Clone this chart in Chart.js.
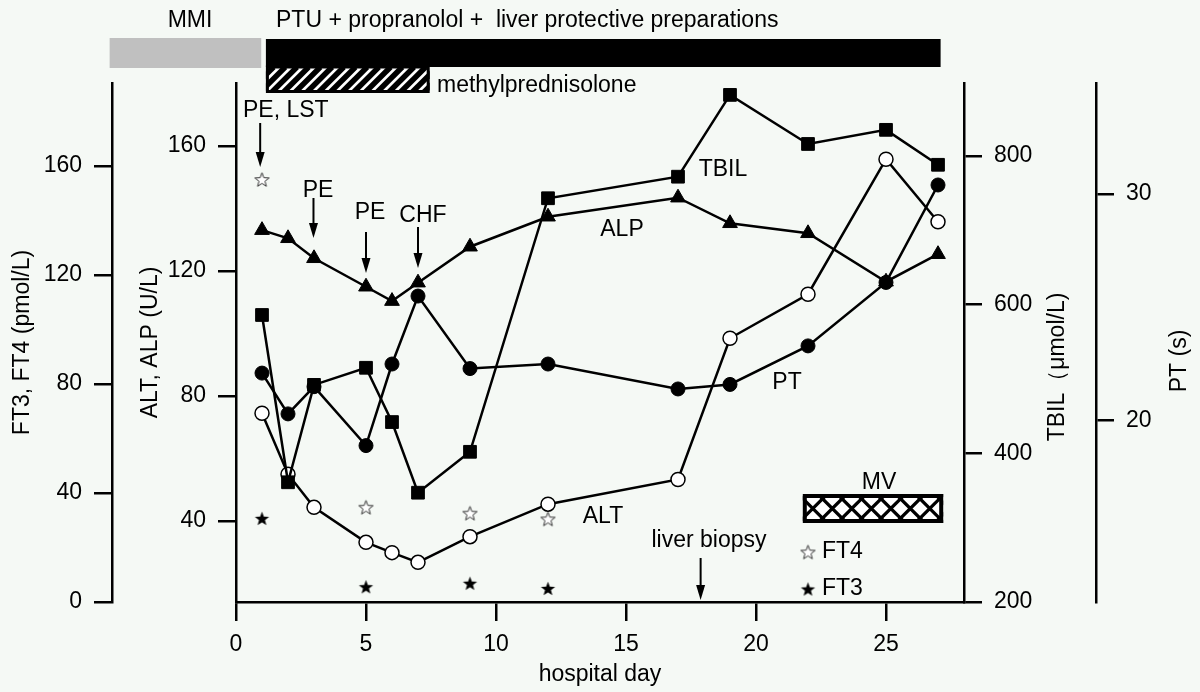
<!DOCTYPE html>
<html>
<head>
<meta charset="utf-8">
<script src="https://cdn.jsdelivr.net/npm/chart.js@4.4.0/dist/chart.umd.min.js"></script>
<style>
  html, body { margin: 0; padding: 0; background: #f5f9f5; }
  #wrap { width: 1200px; height: 692px; }
</style>
</head>
<body>
<div id="wrap"><canvas id="chart" width="1200" height="692"></canvas></div>
<script>
// hospital days
const labDays = [1, 2, 3, 5, 6, 7, 9, 12, 17, 19, 22, 25, 27];
const ftDays = [1, 5, 9, 12];

// series values
const altValues = [74.5, 55, 44.4, 33.2, 29.9, 26.8, 35, 45.4, 53.3, 98.5, 112.6, 155.8, 135.8];
const alpValues = [133.1, 130.5, 124.1, 115, 110.4, 116.3, 127.8, 137.4, 143.5, 135.3, 132.1, 116.6, 125.4];
const tbilValues = [586, 361, 492, 515, 442, 347, 402, 743, 772, 882, 816, 835, 788];
const ptValues = [22.1, 20.3, 21.5, 18.9, 22.5, 25.5, 22.3, 22.5, 21.4, 21.6, 23.3, 26.1, 30.4];
const ft4Values = [155.1, 34.8, 32.6, 30.5];
const ft3Values = [30.7, 5.6, 6.9, 5.0];

// tick labels
const dayTicks = [0, 5, 10, 15, 20, 25];
const ftTicks = [0, 40, 80, 120, 160];
const altTicks = [40, 80, 120, 160];
const tbilTicks = [200, 400, 600, 800];
const ptTicks = [20, 30];

const FONT = '"Liberation Sans", Arial, Helvetica, sans-serif';
Chart.defaults.font.family = FONT;
Chart.defaults.font.size = 23;
Chart.defaults.color = '#000';

// 五角星点样式
function starCanvas(r, fill, stroke, lw) {
  const size = Math.ceil(r * 2 + lw * 2 + 2);
  const c = document.createElement('canvas');
  c.width = size;
  c.height = size;
  const g = c.getContext('2d');
  g.translate(size / 2, size / 2 + r * 0.1);
  g.beginPath();
  for (let i = 0; i < 10; i++) {
    const rr = i % 2 ? r * 0.42 : r;
    const a = -Math.PI / 2 + i * Math.PI / 5;
    g.lineTo(Math.cos(a) * rr, Math.sin(a) * rr);
  }
  g.closePath();
  g.fillStyle = fill;
  g.fill();
  if (stroke) { g.lineWidth = lw; g.strokeStyle = stroke; g.stroke(); }
  return c;
}
const openStar = starCanvas(7.5, '#fff', '#333', 1);
const filledStar = starCanvas(7.5, '#000', null, 0);

const pts = (xs, ys) => xs.map((d, i) => ({ x: d, y: ys[i] }));
const fixTicks = list => scale => { scale.ticks = list.map(v => ({ value: v })); };

function axis(pos, weight, min, max, ticks, width, extra) {
  return Object.assign({
    type: 'linear',
    position: pos,
    weight: weight,
    min: min,
    max: max,
    afterBuildTicks: fixTicks(ticks),
    afterFit: s => { s.width = width; },
    border: { display: true, color: '#000', width: 2.5 },
    grid: { display: true, drawOnChartArea: false, drawTicks: true, tickLength: 18, color: '#000', lineWidth: 2.5 },
    ticks: { padding: 12, color: '#000', font: { size: 23 } }
  }, extra);
}

// 标注：治疗条、箭头、文字
const annotations = {
  id: 'annotations',
  afterDraw(chart) {
    const ctx = chart.ctx;
    const px = d => chart.scales.x.getPixelForValue(d);
    ctx.save();
    ctx.font = `23px ${FONT}`;
    ctx.textBaseline = 'middle';

    const text = (s, x, y, align) => {
      ctx.fillStyle = '#000';
      ctx.textAlign = align || 'center';
      ctx.fillText(s, x, y);
    };

    // treatment bars
    ctx.fillStyle = '#c0c0c0';
    ctx.fillRect(px(-4.86), 38, px(0.97) - px(-4.86), 30);
    ctx.fillStyle = '#000';
    ctx.fillRect(px(1.15), 39, px(27.1) - px(1.15), 28);

    // methylprednisolone hatched bar
    const hx0 = px(1.15), hx1 = px(7.45), hy0 = 67, hy1 = 93;
    ctx.save();
    ctx.beginPath();
    ctx.rect(hx0, hy0, hx1 - hx0, hy1 - hy0);
    ctx.clip();
    ctx.fillStyle = '#fff';
    ctx.fillRect(hx0, hy0, hx1 - hx0, hy1 - hy0);
    ctx.strokeStyle = '#000';
    ctx.lineWidth = 5.5;
    for (let sx = hx0 - 30; sx < hx1 + 30; sx += 11.7) {
      ctx.beginPath();
      ctx.moveTo(sx, hy1);
      ctx.lineTo(sx + (hy1 - hy0), hy0);
      ctx.stroke();
    }
    ctx.restore();
    ctx.strokeStyle = '#000';
    ctx.lineWidth = 3;
    ctx.strokeRect(hx0 + 1.5, hy0, hx1 - hx0 - 3, hy1 - hy0 - 1.5);

    text('MMI', 190, 21);
    text('PTU + propranolol +  liver protective preparations', 276, 21, 'left');
    text('methylprednisolone', 437, 86, 'left');

    // MV cross-hatched box
    const mx0 = px(21.8), mx1 = px(27.2), my0 = 494, my1 = 523;
    ctx.save();
    ctx.beginPath();
    ctx.rect(mx0, my0, mx1 - mx0, my1 - my0);
    ctx.clip();
    ctx.fillStyle = '#fff';
    ctx.fillRect(mx0, my0, mx1 - mx0, my1 - my0);
    ctx.strokeStyle = '#000';
    ctx.lineWidth = 3.2;
    const mh = my1 - my0;
    for (let cx = mx0 + 10; cx < mx1 + 30; cx += 19.5) {
      ctx.beginPath();
      ctx.moveTo(cx - mh / 2, my1);
      ctx.lineTo(cx + mh / 2, my0);
      ctx.moveTo(cx - mh / 2, my0);
      ctx.lineTo(cx + mh / 2, my1);
      ctx.stroke();
    }
    ctx.restore();
    ctx.lineWidth = 4;
    ctx.strokeRect(mx0 + 2, my0 + 2, mx1 - mx0 - 4, mh - 4);
    text('MV', 879, 483);

    // arrows
    const arrow = (day, y0, y1) => {
      const ax = px(day);
      ctx.strokeStyle = '#000';
      ctx.fillStyle = '#000';
      ctx.lineWidth = 2;
      ctx.beginPath();
      ctx.moveTo(ax, y0);
      ctx.lineTo(ax, y1 - 10);
      ctx.stroke();
      ctx.beginPath();
      ctx.moveTo(ax - 4.5, y1 - 15);
      ctx.lineTo(ax + 4.5, y1 - 15);
      ctx.lineTo(ax, y1);
      ctx.closePath();
      ctx.fill();
    };
    arrow(0.93, 123, 167);
    arrow(2.98, 198, 238);
    arrow(5.0, 232, 273);
    arrow(7.0, 227, 268);
    arrow(17.87, 558, 600);

    text('PE, LST', 243, 111, 'left');
    text('PE', 318, 191);
    text('PE', 370, 213);
    text('CHF', 423, 216);
    text('ALP', 622, 230);
    text('TBIL', 723, 170);
    text('PT', 787, 383);
    text('ALT', 603, 517);
    text('liver biopsy', 709, 541);

    // legend stars
    ctx.drawImage(openStar, 808 - openStar.width / 2, 552 - openStar.height / 2);
    ctx.drawImage(filledStar, 808 - filledStar.width / 2, 589 - filledStar.height / 2);
    text('FT4', 822, 552, 'left');
    text('FT3', 822, 589, 'left');

    // right axis titles, reading bottom to top
    const vtext = (s, x, y) => {
      ctx.save();
      ctx.translate(x, y);
      ctx.rotate(-Math.PI / 2);
      text(s, 0, 0);
      ctx.restore();
    };
    vtext('TBIL（μmol/L)', 1058, 367);
    vtext('PT (s)', 1180, 361);
    ctx.restore();
  }
};

const lineBase = { showLine: true, borderColor: '#000', borderWidth: 2.5, tension: 0, pointBorderColor: '#000' };

new Chart(document.getElementById('chart').getContext('2d'), {
  type: 'line',
  data: {
    datasets: [
      Object.assign({ label: 'TBIL', data: pts(labDays, tbilValues), yAxisID: 'yTBIL',
        pointStyle: 'rect', pointRadius: 9, pointBackgroundColor: '#000', pointBorderWidth: 1 }, lineBase),
      Object.assign({ label: 'PT', data: pts(labDays, ptValues), yAxisID: 'yPT',
        pointStyle: 'circle', pointRadius: 7, pointBackgroundColor: '#000', pointBorderWidth: 1 }, lineBase),
      Object.assign({ label: 'ALT', data: pts(labDays, altValues), yAxisID: 'yALT',
        pointStyle: 'circle', pointRadius: 7, pointBackgroundColor: '#fff', pointBorderWidth: 1.5 }, lineBase),
      Object.assign({ label: 'ALP', data: pts(labDays, alpValues), yAxisID: 'yALT',
        pointStyle: 'triangle', pointRadius: 8.5, pointBackgroundColor: '#000', pointBorderWidth: 1 }, lineBase),
      { label: 'FT4', data: pts(ftDays, ft4Values), yAxisID: 'yFT', showLine: false,
        pointStyle: openStar, pointRadius: 8 },
      { label: 'FT3', data: pts(ftDays, ft3Values), yAxisID: 'yFT', showLine: false,
        pointStyle: filledStar, pointRadius: 8 }
    ]
  },
  options: {
    responsive: false,
    animation: false,
    events: [],
    layout: { padding: { top: 83, left: 0, right: 0, bottom: 0 } },
    plugins: { legend: { display: false }, tooltip: { enabled: false } },
    scales: {
      x: {
        type: 'linear',
        position: 'bottom',
        min: 0,
        max: 28,
        afterBuildTicks: fixTicks(dayTicks),
        afterFit: s => { s.height = 90; },
        border: { display: true, color: '#000', width: 2.5 },
        grid: { display: true, drawOnChartArea: false, drawTicks: true, tickLength: 19, color: '#000', lineWidth: 2.5 },
        ticks: { padding: 10, color: '#000', maxRotation: 0, font: { size: 23 } },
        title: { display: true, text: 'hospital day', padding: { top: 0, bottom: 4 }, font: { size: 23 } }
      },
      yFT: axis('left', 2, 0, 190.5, ftTicks, 112,
        { title: { display: true, text: 'FT3, FT4 (pmol/L)', padding: { top: 8.5, bottom: 0 }, font: { size: 23 } } }),
      yALT: axis('left', 1, 14.1, 180.2, altTicks, 124,
        { title: { display: true, text: 'ALT, ALP (U/L)', padding: { top: 25, bottom: 0 }, font: { size: 23 } } }),
      yTBIL: axis('right', 1, 200, 898, tbilTicks, 132, {}),
      yPT: axis('right', 2, 12, 34.9, ptTicks, 104, {})
    }
  },
  plugins: [annotations]
});
</script>
</body>
</html>
